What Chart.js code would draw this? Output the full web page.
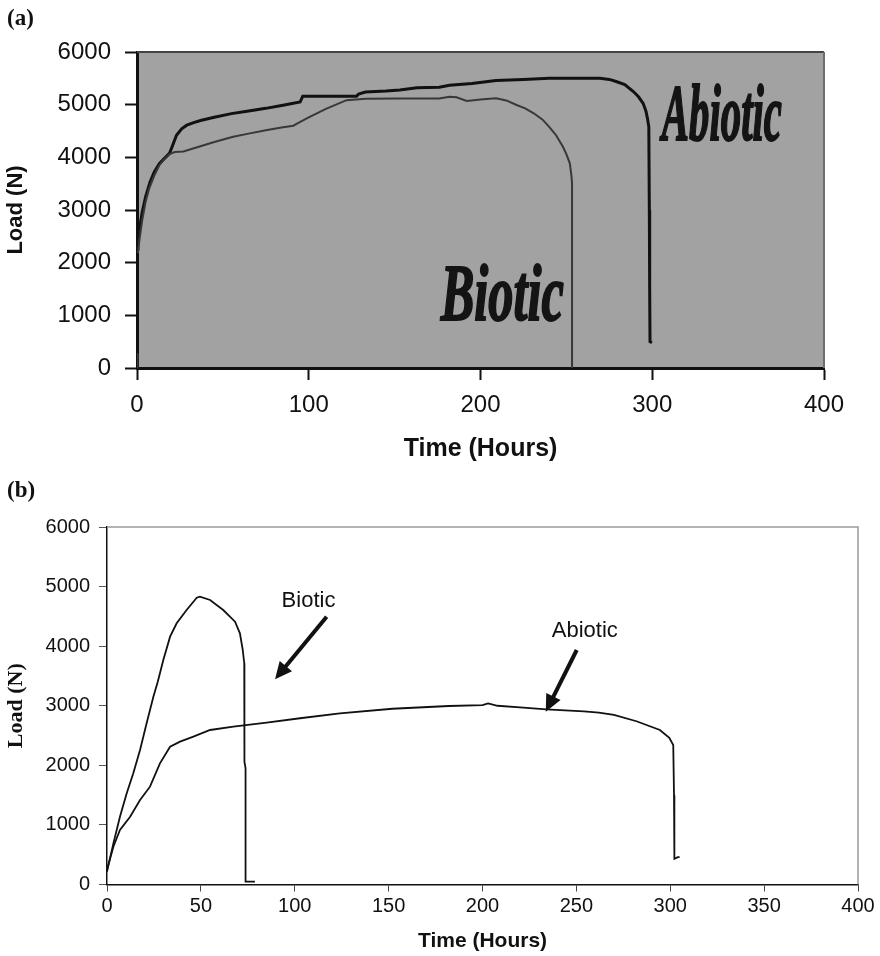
<!DOCTYPE html>
<html><head><meta charset="utf-8">
<script src="https://cdn.jsdelivr.net/npm/chart.js@4.4.1/dist/chart.umd.min.js"></script>
<style>
html,body{margin:0;padding:0;background:#fff;}
#wrap{position:relative;width:880px;height:956px;overflow:hidden;background:#fff;}
canvas{position:absolute;left:0;}
#ca{top:0;}
#cb{top:470px;}
.lbl{position:absolute;font-family:"Liberation Serif","Times New Roman",serif;font-weight:bold;font-size:23px;color:#111;white-space:nowrap;}
</style></head><body>
<div id="wrap">
<canvas id="ca" width="880" height="470"></canvas>
<canvas id="cb" width="880" height="486"></canvas>
<div class="lbl" style="left:7px;top:5px">(a)</div>
<div class="lbl" style="left:7px;top:477px">(b)</div>
</div>
<script>
// ---------- DATA ----------
const yTicks = [0, 1000, 2000, 3000, 4000, 5000, 6000];
const aXTicks = [0, 100, 200, 300, 400];
const bXTicks = [0, 50, 100, 150, 200, 250, 300, 350, 400];

// Panel (a)
const aAbioticTime = [0, 0.5, 1.5, 3, 5, 7.5, 10, 13, 16, 19, 21, 23, 26, 29, 33, 37, 45, 55, 65, 75, 85, 95, 96.5, 110, 127.8, 129, 133, 145, 153, 163, 176, 182, 195, 209, 225, 240, 255, 269.5, 275, 279, 284, 289, 292, 294.7, 296.3, 297.2, 298.0, 298.3, 298.5, 298.7, 299.8];
const aAbioticLoad = [2250, 2430, 2650, 2950, 3250, 3520, 3720, 3880, 3980, 4080, 4250, 4420, 4540, 4610, 4660, 4700, 4760, 4830, 4880, 4930, 4990, 5050, 5160, 5160, 5160, 5200, 5240, 5260, 5280, 5320, 5330, 5370, 5400, 5460, 5480, 5500, 5500, 5500, 5480, 5440, 5380, 5250, 5150, 5025, 4880, 4740, 4580, 3000, 1500, 500, 480];

const aBioticTime = [0, 0.3, 0.4, 0.5, 1.5, 3, 5, 7, 10, 13, 16, 19, 22, 27, 36, 45, 56, 65, 75, 85, 91, 93.7, 100, 110, 122, 133, 153, 176, 182, 186, 192, 200, 209, 215, 221, 226, 231, 236, 240, 244, 248, 250, 252, 253, 253.3, 253.3];
const aBioticLoad = [0, 280, null, 2180, 2450, 2800, 3150, 3400, 3650, 3850, 3970, 4060, 4100, 4110, 4200, 4290, 4390, 4450, 4516, 4570, 4600, 4650, 4760, 4920, 5085, 5110, 5115, 5117, 5150, 5140, 5070, 5100, 5120, 5080, 4993, 4930, 4836, 4720, 4580, 4420, 4200, 4060, 3886, 3632, 3500, 0];

// Panel (b)
const bAbioticTime = [0, 3.4, 6.9, 12.3, 17.6, 22.9, 28.2, 33.6, 38.9, 46, 54.9, 67.3, 85, 102.8, 124, 152, 182, 200, 203, 208, 220, 234, 254, 262, 270, 282, 294.5, 299.5, 301.6, 302, 302.2, 304, 305];
const bAbioticLoad = [250, 634, 915, 1138, 1418, 1642, 2034, 2313, 2397, 2481, 2593, 2649, 2716, 2790, 2873, 2950, 2996, 3010, 3040, 3000, 2974, 2940, 2905, 2884, 2845, 2740, 2593, 2460, 2340, 1500, 430, 460, 460];

const bBioticTime = [0, 3.4, 6.9, 10.5, 14, 17.6, 21.1, 24.7, 27, 30, 33.6, 37.1, 42.4, 47.8, 49.5, 54.9, 61.9, 68.2, 70.8, 72.3, 73.1, 73.2, 73.8, 73.8, 78.8];
const bBioticLoad = [215, 691, 1138, 1531, 1866, 2258, 2706, 3152, 3400, 3768, 4159, 4384, 4607, 4814, 4830, 4775, 4607, 4411, 4216, 3936, 3713, 2061, 1950, 47, 47];

// Annotation texts
const aLabels = ['Abiotic', 'Biotic'];
const bLabels = ['Biotic', 'Abiotic'];

// ---------- ANNOTATION PLACEMENT (data units) ----------
const aLabelPos = [{x0: 305.6, x1: 375.5, y: 4329}, {x0: 176.8, x1: 248.5, y: 911}];
const bLabelPos = [{x: 93, y: 4653}, {x: 236.9, y: 4159}];
const bArrows = [{from: [117, 4495], to: [89.5, 3444]}, {from: [250.2, 3936], to: [233.7, 2900]}];

// ---------- HELPERS ----------
const pts = (t, l) => t.map((x, i) => ({x: x, y: l[i]}));
const plain = v => String(v);
const SANS = '"Liberation Sans", Arial, Helvetica, sans-serif';
const SERIF = '"Liberation Serif", "Times New Roman", serif';

const plotFrameA = {
  id: 'plotFrameA',
  beforeDraw(chart) {
    const {ctx, chartArea: a} = chart;
    ctx.save();
    ctx.fillStyle = '#a2a2a2';
    ctx.fillRect(a.left, a.top, a.right - a.left, a.bottom - a.top);
    ctx.restore();
  },
  beforeDatasetsDraw(chart) {
    const {ctx, chartArea: a} = chart;
    ctx.save();
    ctx.strokeStyle = '#444';
    ctx.lineWidth = 2;
    ctx.beginPath();
    ctx.moveTo(a.left, a.top); ctx.lineTo(a.right, a.top);
    ctx.stroke();
    ctx.strokeStyle = '#6e6e6e';
    ctx.beginPath();
    ctx.moveTo(a.right, a.top); ctx.lineTo(a.right, a.bottom);
    ctx.stroke();
    ctx.restore();
  }
};

const annotA = {
  id: 'annotA',
  afterDatasetsDraw(chart) {
    const {ctx} = chart, xs = chart.scales.x, ys = chart.scales.y;
    ctx.save();
    ctx.font = 'italic bold 80px ' + SERIF;
    ctx.fillStyle = '#141414';
    ctx.strokeStyle = '#141414';
    ctx.textBaseline = 'alphabetic';
    ctx.textAlign = 'left';
    aLabels.forEach((t, i) => {
      const p = aLabelPos[i];
      const x0 = xs.getPixelForValue(p.x0), x1 = xs.getPixelForValue(p.x1);
      const w = ctx.measureText(t).width;
      ctx.save();
      ctx.translate(x0, ys.getPixelForValue(p.y));
      ctx.scale((x1 - x0) / w, 1);
      ctx.lineWidth = 2;
      ctx.fillText(t, 0, 0);
      ctx.strokeText(t, 0, 0);
      ctx.restore();
    });
    ctx.restore();
  }
};

const plotFrameB = {
  id: 'plotFrameB',
  beforeDatasetsDraw(chart) {
    const {ctx, chartArea: a} = chart;
    ctx.save();
    ctx.strokeStyle = '#9a9a9a';
    ctx.lineWidth = 1.5;
    ctx.beginPath();
    ctx.moveTo(a.left, a.top); ctx.lineTo(a.right, a.top); ctx.lineTo(a.right, a.bottom);
    ctx.stroke();
    ctx.restore();
  }
};

const annotB = {
  id: 'annotB',
  afterDatasetsDraw(chart) {
    const {ctx} = chart, xs = chart.scales.x, ys = chart.scales.y;
    ctx.save();
    ctx.font = '22px ' + SANS;
    ctx.fillStyle = '#111';
    ctx.textBaseline = 'alphabetic';
    ctx.textAlign = 'left';
    bLabels.forEach((t, i) => {
      const p = bLabelPos[i];
      ctx.fillText(t, xs.getPixelForValue(p.x), ys.getPixelForValue(p.y));
    });
    bArrows.forEach(ar => {
      const x0 = xs.getPixelForValue(ar.from[0]), y0 = ys.getPixelForValue(ar.from[1]);
      const x1 = xs.getPixelForValue(ar.to[0]), y1 = ys.getPixelForValue(ar.to[1]);
      const ang = Math.atan2(y1 - y0, x1 - x0);
      const hl = 17, hw = 8;
      const bx = x1 - hl * Math.cos(ang), by = y1 - hl * Math.sin(ang);
      ctx.strokeStyle = '#111';
      ctx.lineWidth = 4;
      ctx.beginPath();
      ctx.moveTo(x0, y0); ctx.lineTo(bx + 2 * Math.cos(ang), by + 2 * Math.sin(ang));
      ctx.stroke();
      ctx.beginPath();
      ctx.moveTo(x1, y1);
      ctx.lineTo(bx + hw * Math.sin(ang), by - hw * Math.cos(ang));
      ctx.lineTo(bx - hw * Math.sin(ang), by + hw * Math.cos(ang));
      ctx.closePath();
      ctx.fill();
    });
    ctx.restore();
  }
};

// ---------- CHART (a) ----------
new Chart(document.getElementById('ca'), {
  type: 'scatter',
  data: {datasets: [
    {label: 'Biotic', data: pts(aBioticTime, aBioticLoad), showLine: true, spanGaps: false, borderColor: '#383838', borderWidth: 2, pointRadius: 0, tension: 0},
    {label: 'Abiotic', data: pts(aAbioticTime, aAbioticLoad), showLine: true, borderColor: '#111', borderWidth: 3, pointRadius: 0, tension: 0}
  ]},
  options: {
    responsive: false, animation: false, devicePixelRatio: 1,
    layout: {padding: {top: 52, right: 56, left: 0, bottom: 0}},
    plugins: {legend: {display: false}, tooltip: {enabled: false}},
    scales: {
      x: {
        type: 'linear', min: aXTicks[0], max: aXTicks[aXTicks.length - 1],
        ticks: {stepSize: aXTicks[1] - aXTicks[0], padding: 11, color: '#111', maxRotation: 0, autoSkip: false, callback: plain, font: {family: SANS, size: 24}},
        grid: {drawOnChartArea: false, drawTicks: true, tickLength: 12, tickColor: '#111', tickWidth: 2},
        border: {display: true, color: '#111', width: 3},
        title: {display: true, text: 'Time (Hours)', color: '#111', font: {family: SANS, size: 25, weight: 'bold'}, padding: {top: 0, bottom: 6}},
        afterFit(s) { s.height = 102; }
      },
      y: {
        type: 'linear', min: yTicks[0], max: yTicks[yTicks.length - 1],
        ticks: {stepSize: yTicks[1] - yTicks[0], padding: 14, color: '#111', callback: plain, font: {family: SANS, size: 24}},
        grid: {drawOnChartArea: false, drawTicks: true, tickLength: 12, tickColor: '#111', tickWidth: 2},
        border: {display: true, color: '#111', width: 3},
        title: {display: true, text: 'Load (N)', color: '#111', font: {family: SANS, size: 22, weight: 'bold'}, padding: {top: 3, bottom: 0}},
        afterFit(s) { s.width = 137; }
      }
    }
  },
  plugins: [plotFrameA, annotA]
});

// ---------- CHART (b) ----------
new Chart(document.getElementById('cb'), {
  type: 'scatter',
  data: {datasets: [
    {label: 'Biotic', data: pts(bBioticTime, bBioticLoad), showLine: true, borderColor: '#111', borderWidth: 1.8, pointRadius: 0, tension: 0},
    {label: 'Abiotic', data: pts(bAbioticTime, bAbioticLoad), showLine: true, borderColor: '#111', borderWidth: 1.8, pointRadius: 0, tension: 0}
  ]},
  options: {
    responsive: false, animation: false, devicePixelRatio: 1,
    layout: {padding: {top: 57, right: 22, left: 0, bottom: 0}},
    plugins: {legend: {display: false}, tooltip: {enabled: false}},
    scales: {
      x: {
        type: 'linear', min: bXTicks[0], max: bXTicks[bXTicks.length - 1],
        ticks: {stepSize: bXTicks[1] - bXTicks[0], padding: 3, color: '#111', maxRotation: 0, autoSkip: false, callback: plain, font: {family: SANS, size: 20}},
        grid: {drawOnChartArea: false, drawTicks: true, tickLength: 7, tickColor: '#444', tickWidth: 1},
        border: {display: true, color: '#111', width: 1.5},
        title: {display: true, text: 'Time (Hours)', color: '#111', font: {family: SANS, size: 21, weight: 'bold'}, padding: {top: 0, bottom: 2}},
        afterFit(s) { s.height = 71.5; }
      },
      y: {
        type: 'linear', min: yTicks[0], max: yTicks[yTicks.length - 1],
        ticks: {stepSize: yTicks[1] - yTicks[0], padding: 9, color: '#111', callback: plain, font: {family: SANS, size: 20}},
        grid: {drawOnChartArea: false, drawTicks: true, tickLength: 8, tickColor: '#555', tickWidth: 1},
        border: {display: true, color: '#111', width: 1.5},
        title: {display: true, text: 'Load (N)', color: '#111', font: {family: SERIF, size: 22, weight: 'bold'}, padding: {top: 3, bottom: 0}},
        afterFit(s) { s.width = 107; }
      }
    }
  },
  plugins: [plotFrameB, annotB]
});
</script>
</body></html>
